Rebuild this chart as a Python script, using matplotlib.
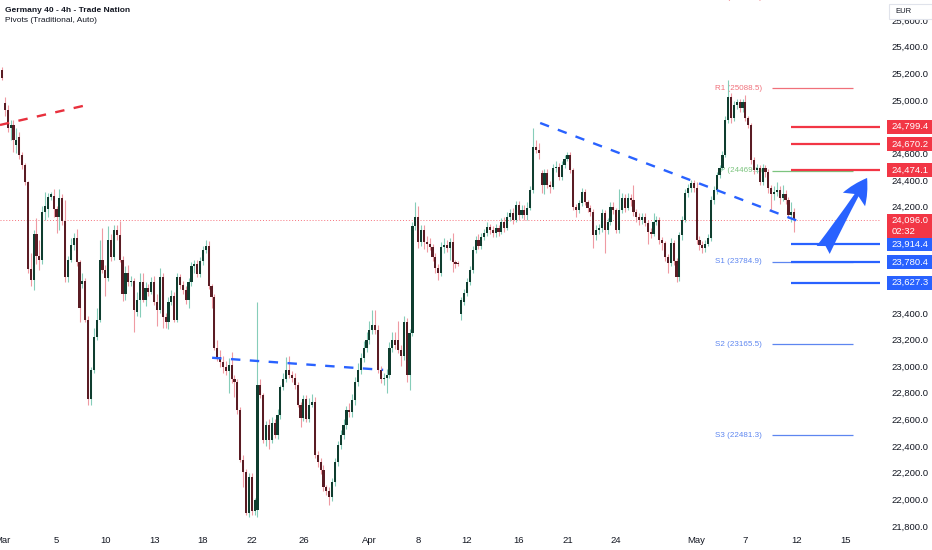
import numpy as np
import matplotlib.pyplot as plt
from matplotlib.patches import Rectangle, FancyArrowPatch
from matplotlib.transforms import blended_transform_factory

plt.rcParams['font.family'] = ['Liberation Sans', 'DejaVu Sans']

# 4h candles, one entry per bar (weekends removed)
opens = [
    25225, 24975, 24925, 24790, 24810, 24660, 24720, 24590, 24510, 24380,
    23730, 23650, 23990, 23830, 23800, 24160, 24180, 24270, 24280, 24180,
    24120, 24260, 24090, 23670, 23800, 23910, 23960, 23780, 23620, 23640,
    23350, 22750, 22970, 23220, 23350, 23800, 23720, 23660, 23950, 23820,
    24020, 23985, 23800, 23540, 23700, 23630, 23640, 23410, 23500, 23630,
    23500, 23590, 23560, 23630, 23480, 23420, 23670, 23370, 23330, 23480,
    23530, 23350, 23670, 23610, 23570, 23500, 23630, 23750, 23770, 23690,
    23790, 23870, 23900, 23600, 23520, 23140, 23070, 23030, 22990, 22960,
    23010, 22900, 22880, 22670, 22295, 22205, 21900, 22170, 21910, 21920,
    22860, 22780, 22445, 22560, 22445, 22570, 22480, 22630, 22840, 22900,
    22970, 22930, 22910, 22860, 22710, 22610, 22750, 22600, 22710, 22730,
    22330, 22280, 22220, 22090, 22060, 22020, 22130, 22280, 22410, 22480,
    22560, 22670, 22655, 22746, 22880, 22970, 23060, 23140, 23200, 23270,
    23310, 23270, 22970, 22900, 22910, 22930, 23140, 23200, 23200, 23120,
    23080, 23330, 22930, 23250, 24050, 24120, 23930, 24023, 23930, 23920,
    23895, 23820, 23740, 23700, 23895, 23910, 23890, 23930, 23780, 23770,
    23390, 23480, 23550, 23630, 23720, 23870, 23950, 23900, 23970, 24000,
    24045, 24020, 24000, 24040, 24010, 24085, 24040, 24120, 24150, 24098,
    24210, 24135, 24175, 24135, 24190, 24324, 24650, 24625, 24450, 24360,
    24450, 24360, 24345, 24490, 24500, 24420, 24510, 24560, 24585, 24474,
    24195, 24173, 24225, 24310, 24235, 24190, 24160, 23985, 24023, 24040,
    24150, 24023, 24085, 24195, 24173, 24023, 24173, 24265, 24190, 24265,
    24250, 24160, 24120, 24098, 24120, 24075, 24010, 23995, 24085, 24098,
    23948, 23925, 23820, 23775, 23925, 23790, 23670, 23985, 24098, 24300,
    24340, 24375, 24340, 23948, 23910, 23890, 23920, 23965, 24249, 24324,
    24436, 24490, 24590, 24850, 25020, 24865, 24960, 24985, 24940, 24985,
    24865, 24810, 24550, 24474, 24490, 24385, 24490, 24460, 24340, 24290,
    24310, 24324, 24265, 24295, 24249, 24135, 24160,
]
highs = [
    25250, 25020, 24960, 24850, 24850, 24790, 24760, 24610, 24530, 24390,
    23850, 24020, 24110, 23950, 24200, 24310, 24300, 24310, 24330, 24200,
    24330, 24290, 24250, 23830, 23960, 24000, 24030, 23800, 23700, 23660,
    23380, 22990, 23290, 23440, 23950, 24040, 23760, 24050, 23990, 24060,
    24060, 24090, 23830, 23750, 23760, 23680, 23660, 23560, 23700, 23700,
    23630, 23620, 23670, 23680, 23540, 23740, 23700, 23400, 23520, 23570,
    23560, 23700, 23690, 23640, 23600, 23660, 23780, 23800, 23800, 23820,
    23900, 23950, 23940, 23620, 23540, 23200, 23120, 23080, 23040, 23060,
    23110, 22930, 22900, 22690, 22330, 22230, 22200, 22200, 22010, 23480,
    22900, 22800, 22590, 22600, 22620, 22600, 22680, 22860, 22950, 23070,
    23080, 22960, 22950, 22880, 22730, 22780, 22780, 22760, 22790, 22770,
    22360, 22310, 22260, 22110, 22090, 22160, 22310, 22440, 22520, 22600,
    22700, 22720, 22790, 22920, 23020, 23100, 23190, 23260, 23340, 23420,
    23420, 23310, 23000, 22950, 22980, 23180, 23260, 23260, 23340, 23160,
    23380, 23360, 23280, 24080, 24230, 24200, 24060, 24060, 23980, 23960,
    23920, 23850, 23770, 23930, 23960, 23950, 23960, 24000, 23800, 23790,
    23520, 23580, 23660, 23750, 23900, 23980, 23990, 24000, 24030, 24080,
    24070, 24050, 24070, 24060, 24110, 24120, 24160, 24180, 24190, 24240,
    24240, 24210, 24210, 24230, 24350, 24790, 24700, 24680, 24470, 24480,
    24480, 24390, 24520, 24540, 24530, 24540, 24590, 24610, 24610, 24490,
    24220, 24250, 24340, 24330, 24250, 24210, 24180, 24060, 24070, 24180,
    24170, 24110, 24230, 24230, 24190, 24330, 24300, 24290, 24300, 24290,
    24360, 24180, 24150, 24150, 24150, 24100, 24040, 24150, 24130, 24120,
    23970, 23940, 23840, 23960, 23950, 23810, 24010, 24130, 24330, 24370,
    24400, 24400, 24380, 23980, 23940, 23950, 23990, 24280, 24350, 24460,
    24510, 24620, 24880, 25150, 25050, 24990, 25010, 25010, 25010, 25040,
    24880, 24830, 24570, 24520, 24510, 24520, 24510, 24480, 24360, 24350,
    24380, 24350, 24360, 24320, 24270, 24230, 24190,
]
lows = [
    25150, 24880, 24760, 24700, 24610, 24600, 24560, 24480, 24360, 23700,
    23600, 23570, 23770, 23720, 23770, 24100, 24120, 24250, 24120, 24000,
    24020, 24060, 23630, 23630, 23780, 23870, 23750, 23330, 23590, 23330,
    22710, 22710, 22950, 23200, 23330, 23700, 23530, 23640, 23790, 23800,
    23950, 23780, 23490, 23500, 23600, 23600, 23260, 23380, 23370, 23480,
    23450, 23530, 23540, 23460, 23300, 23400, 23290, 23290, 23280, 23460,
    23330, 23330, 23580, 23540, 23470, 23440, 23600, 23700, 23670, 23670,
    23760, 23850, 23580, 23440, 23120, 23040, 22990, 22950, 22930, 22800,
    22870, 22770, 22640, 22280, 22090, 21880, 21870, 21880, 21880, 21870,
    22760, 22420, 22400, 22380, 22420, 22460, 22450, 22600, 22820, 22880,
    22910, 22880, 22830, 22690, 22540, 22590, 22580, 22580, 22690, 22310,
    22240, 22190, 22060, 22030, 21960, 21990, 22100, 22250, 22380, 22450,
    22530, 22620, 22620, 22710, 22850, 22940, 23030, 23110, 23170, 23240,
    23240, 22950, 22870, 22860, 22800, 22910, 23110, 23130, 23100, 23000,
    23050, 22880, 22820, 23230, 24020, 23890, 23900, 23880, 23860, 23870,
    23790, 23700, 23650, 23680, 23850, 23860, 23800, 23710, 23740, 23750,
    23350, 23460, 23530, 23610, 23700, 23850, 23880, 23880, 23950, 23980,
    23990, 23970, 23970, 23980, 23990, 24010, 24020, 24090, 24070, 24080,
    24100, 24110, 24100, 24100, 24170, 24300, 24600, 24560, 24300, 24290,
    24340, 24300, 24330, 24460, 24400, 24400, 24490, 24540, 24450, 24170,
    24120, 24150, 24200, 24210, 24160, 24130, 23890, 23950, 23990, 24010,
    23850, 23990, 24060, 24140, 24000, 24000, 24150, 24160, 24170, 24200,
    24130, 24080, 24060, 24070, 24050, 23920, 23960, 23980, 24060, 23920,
    23870, 23790, 23700, 23750, 23760, 23630, 23640, 23950, 24080, 24270,
    24310, 24310, 23920, 23870, 23850, 23860, 23900, 23940, 24220, 24290,
    24410, 24470, 24570, 24830, 24830, 24840, 24930, 24910, 24910, 24840,
    24790, 24520, 24440, 24450, 24360, 24360, 24420, 24300, 24170, 24250,
    24280, 24220, 24240, 24220, 24110, 24080, 24010,
]
closes = [
    25165, 24925, 24790, 24810, 24700, 24700, 24590, 24510, 24380, 23730,
    23650, 23990, 23830, 23800, 24160, 24200, 24270, 24290, 24180, 24120,
    24260, 24090, 23670, 23800, 23910, 23960, 23780, 23440, 23640, 23350,
    22750, 22970, 23220, 23350, 23800, 23720, 23660, 23950, 23820, 24020,
    23985, 23800, 23540, 23700, 23630, 23640, 23420, 23500, 23630, 23500,
    23590, 23560, 23630, 23480, 23420, 23670, 23370, 23330, 23480, 23530,
    23350, 23670, 23610, 23570, 23500, 23630, 23750, 23770, 23690, 23790,
    23870, 23900, 23600, 23520, 23140, 23070, 23030, 22990, 22960, 23010,
    22900, 22880, 22670, 22295, 22205, 21900, 22170, 21910, 21995, 22860,
    22780, 22445, 22560, 22445, 22570, 22480, 22630, 22840, 22900, 22970,
    22930, 22910, 22860, 22710, 22610, 22750, 22600, 22710, 22730, 22330,
    22280, 22220, 22090, 22060, 22020, 22130, 22280, 22410, 22480, 22560,
    22670, 22655, 22746, 22880, 22970, 23060, 23140, 23200, 23270, 23310,
    23270, 22970, 22900, 22910, 22930, 23140, 23200, 23160, 23120, 23080,
    23330, 22930, 23250, 24050, 24120, 23930, 24023, 23930, 23920, 23895,
    23820, 23740, 23700, 23895, 23910, 23890, 23930, 23780, 23770, 23765,
    23500, 23550, 23630, 23720, 23870, 23950, 23900, 23970, 24000, 24045,
    24020, 24000, 24040, 24010, 24085, 24040, 24120, 24150, 24098, 24210,
    24135, 24175, 24135, 24190, 24324, 24650, 24625, 24600, 24360, 24450,
    24360, 24345, 24490, 24500, 24420, 24510, 24560, 24585, 24474, 24195,
    24173, 24225, 24310, 24235, 24190, 24160, 23985, 24023, 24040, 24150,
    24023, 24085, 24195, 24173, 24023, 24173, 24265, 24190, 24265, 24250,
    24160, 24120, 24098, 24120, 24075, 24010, 23995, 24085, 24098, 23948,
    23925, 23820, 23775, 23925, 23790, 23670, 23985, 24098, 24300, 24340,
    24375, 24340, 23948, 23910, 23890, 23920, 23965, 24249, 24324, 24436,
    24490, 24590, 24850, 25020, 24865, 24960, 24985, 24940, 24985, 24865,
    24810, 24550, 24474, 24490, 24385, 24490, 24460, 24340, 24290, 24310,
    24324, 24265, 24295, 24249, 24135, 24160, 24096,
]

# date labels and the bar they sit on
tick_bars = [0, 19, 36, 53, 70, 87, 105, 128, 145, 162, 180, 197, 214, 242, 259, 277, 294]
tick_text = ['Mar', '5', '10', '13', '18', '22', '26', 'Apr', '8', '12', '16',
             '21', '24', 'May', '7', '12', '15']

# drawn trendlines: (bar, price) end points
red_trend = [(-0.7, 24812), (28.2, 24955)]
blue_trend_low = [(73.2, 23063), (132.8, 22972)]
blue_trend_high = [(187.5, 24827), (278.0, 24085)]

# pivots (traditional)
pivot_names = ['R2', 'R1', 'P', 'S1', 'S2', 'S3']
pivot_values = [25772.7, 25088.5, 24469.1, 23784.9, 23165.5, 22481.3]
pivot_colors = ['#f0707a', '#f0707a', '#7cc47f', '#5d86f0', '#5d86f0', '#5d86f0']

# horizontal levels drawn on the right
red_levels = [24799.4, 24670.2, 24474.1]
blue_levels = [23914.4, 23780.4, 23627.3]
last_price = 24096.0
countdown = '02:32'

arrow_from = (286.1, 23873)
arrow_to = (301.4, 24414)

UP_BODY, UP_WICK = '#0f3d2f', '#86cdb9'
DN_BODY, DN_WICK = '#5a1c24', '#ef9aa3'
RED, BLUE = '#f23645', '#2962ff'
TXT = '#131722'

o = np.array(opens, float)
h = np.array(highs, float)
l = np.array(lows, float)
c = np.array(closes, float)
x = np.arange(len(c))
up = c >= o

fig = plt.figure(figsize=(9.32, 5.5), dpi=100)
ax = fig.add_axes([0, 20 / 550, 880 / 932, 530 / 550])
ax.set_xlim(-0.7, 305.9)
ax.set_ylim(21769, 25751)
x_end = 305.9
px = 7.513  # price per pixel

# candles
bottom = np.minimum(o, c)
height = np.maximum(np.abs(c - o), 8)
for mask, wc, bc in [(up, UP_WICK, UP_BODY), (~up, DN_WICK, DN_BODY)]:
    ax.vlines(x[mask], l[mask], h[mask], color=wc, lw=0.8, zorder=3)
    ax.bar(x[mask], height[mask], bottom=bottom[mask], width=0.75,
           color=bc, lw=0, zorder=4)

# last price dotted line
ax.axhline(last_price, color=RED, lw=0.7, ls=(0, (1, 2)), alpha=0.7, zorder=2)

# pivot lines and labels
for name, val, col in zip(pivot_names, pivot_values, pivot_colors):
    ax.hlines(val, 268.3, 296.5, color=col, lw=0.9, zorder=2)
    ax.text(264.8, val, f'{name} ({val:.1f})', color=col, fontsize=5.8,
            ha='right', va='center', zorder=1)

# trendlines
for pts, col in [(red_trend, '#e8303d'), (blue_trend_low, BLUE), (blue_trend_high, BLUE)]:
    (x0, y0), (x1, y1) = pts
    ax.plot([x0, x1], [y0, y1], color=col, lw=1.7, dashes=(4, 4), zorder=5)

# right-side levels
for lv in red_levels:
    ax.hlines(lv, 275, x_end, color=RED, lw=1.6, zorder=5)
for lv in blue_levels:
    ax.hlines(lv, 275, x_end, color=BLUE, lw=1.6, zorder=5)

# arrow
ax.add_patch(FancyArrowPatch(arrow_from, arrow_to,
                             arrowstyle='fancy,head_length=0.33,head_width=0.34,tail_width=0.2',
                             mutation_scale=55, color=BLUE, lw=0,
                             shrinkA=0, shrinkB=0, zorder=6))

# axes cosmetics
for s in ax.spines.values():
    s.set_visible(False)
ax.set_xticks(tick_bars)
ax.set_xticklabels(tick_text, fontsize=6.8, color=TXT)
ax.tick_params(axis='x', length=0, pad=4)
ax.yaxis.tick_right()
yt = np.arange(21800, 25601, 200)
tags = red_levels + blue_levels
hidden = [v for v in yt
          if min(abs(v - t) for t in tags) < 7 * px
          or last_price - 18 * px < v < last_price + 6 * px]
ax.set_yticks(yt)
ax.set_yticklabels(['' if v in hidden else f'{v:,.1f}' for v in yt],
                   fontsize=6.8, color=TXT)
ax.tick_params(axis='y', length=0, pad=8.6)

# price tags on the axis
tr = blended_transform_factory(ax.transAxes, ax.transData)
for lv, col in [(v, RED) for v in red_levels] + [(v, BLUE) for v in blue_levels]:
    ax.add_patch(Rectangle((1.008, lv - 7 * px), 0.06, 14 * px, transform=tr,
                           fc=col, ec='none', clip_on=False, zorder=10))
    ax.text(1.0136, lv, f'{lv:,.1f}', transform=tr, color='white', fontsize=6.8,
            va='center', ha='left', clip_on=False, zorder=11)
ax.add_patch(Rectangle((1.008, last_price - 18 * px), 0.06, 24 * px, transform=tr,
                       fc=RED, ec='none', clip_on=False, zorder=10))
ax.text(1.0136, last_price, f'{last_price:,.1f}', transform=tr, color='white',
        fontsize=6.8, va='center', ha='left', clip_on=False, zorder=11)
ax.text(1.0136, last_price - 11 * px, countdown, transform=tr, color='white',
        fontsize=6.8, va='center', ha='left', clip_on=False, zorder=11)

# currency box
fig.add_artist(Rectangle((889 / 932, 1 - 19 / 550), 43 / 932, 15 / 550,
                         transform=fig.transFigure, fc='white', ec='#e0e3eb', lw=0.8, zorder=20))
fig.text(895 / 932, 1 - 11.5 / 550, 'EUR', fontsize=5.5, color=TXT, va='center', zorder=21)

# header
fig.text(5 / 932, 1 - 10 / 550, 'Germany 40 - 4h - Trade Nation', fontsize=6.0,
         fontweight='bold', color=TXT, va='center')
fig.text(5 / 932, 1 - 21 / 550, 'Pivots (Traditional, Auto)', fontsize=6.0,
         color=TXT, va='center')

fig.savefig('out.png', dpi=100, facecolor='white')
